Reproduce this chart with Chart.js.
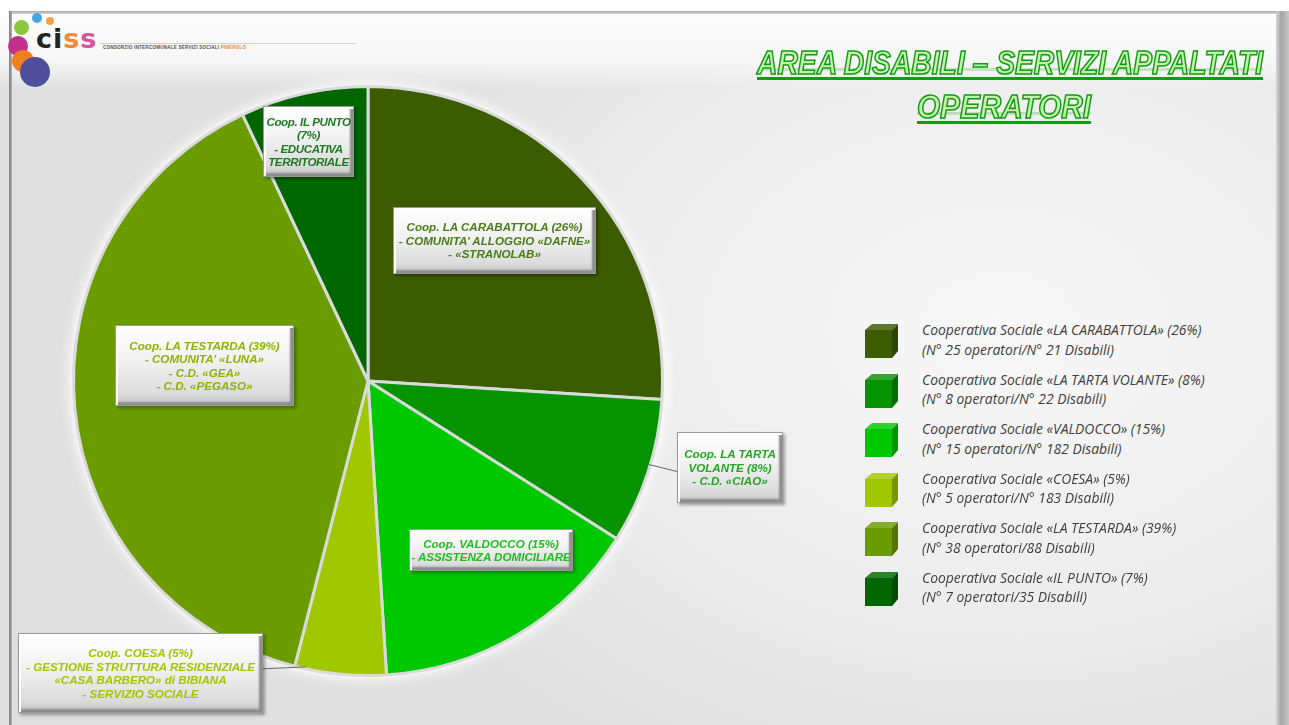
<!DOCTYPE html>
<html>
<head>
<meta charset="utf-8">
<script src="https://cdn.jsdelivr.net/npm/chart.js@4.4.1/dist/chart.umd.min.js"></script>
<style>
  html, body { margin: 0; padding: 0; }
  body {
    width: 1289px; height: 725px; overflow: hidden; position: relative;
    background: radial-gradient(ellipse 700px 500px at 1000px 330px, #f8f8f8 0%, #ededed 55%, #e0e0e0 100%);
    font-family: 'Liberation Sans', sans-serif;
  }
  #topband { position: absolute; left: 0; top: 0; width: 1289px; height: 88px;
    background: linear-gradient(#ffffff, #f6f6f6 70%, rgba(240,240,240,0)); }
  #frameTop { position: absolute; left: 9px; top: 11px; width: 1272px; height: 3px;
    background: linear-gradient(#a8a8a8, #d8d8d8); }
  #frameLeft { position: absolute; left: 9px; top: 11px; width: 3px; height: 714px;
    background: linear-gradient(90deg, #7c7c7c, #b0b0b0); }
  #frameRight { position: absolute; left: 1276px; top: 11px; width: 13px; height: 714px;
    background: linear-gradient(90deg, #d6d6d6, #a4a4a4 40%, #c8c8c8); }
  #chartWrap { position: absolute; left: 0; top: 0; width: 800px; height: 725px; }
  .dot { position: absolute; border-radius: 50%; }
  #logoText { position: absolute; left: 36px; top: 23px; font: bold 27px 'DejaVu Sans', sans-serif; letter-spacing: 1px; }
  #logoSub { position: absolute; left: 103px; top: 45px; font: bold 4.6px 'Liberation Sans', sans-serif; color: #555; letter-spacing: 0.2px; white-space: nowrap; }
  #logoLine { position: absolute; left: 100px; top: 43px; width: 256px; height: 1px; background: #d0d0d0; }
  .title { position: absolute; font: italic bold 33px 'Liberation Sans Narrow', 'Liberation Sans', sans-serif;
    color: #c4f2ac; -webkit-text-stroke: 1.6px #139c13; white-space: nowrap;
    text-decoration: underline; text-decoration-color: #139c13; text-decoration-thickness: 3px; text-underline-offset: 3px;
    -webkit-box-reflect: below -16px linear-gradient(transparent 62%, rgba(255,255,255,0.28));
    transform-origin: 0 0; }
  .lbl { position: absolute; box-sizing: border-box; text-align: center;
    font: italic bold 11.6px 'Liberation Sans Narrow', 'Liberation Sans', sans-serif; line-height: 13.5px;
    background: linear-gradient(#ffffff 0%, #f1f1f1 45%, #dcdcdc 85%, #c4c4c4 100%);
    border: 1px solid #9a9a9a;
    box-shadow: inset 2px 2px 0 #ffffff, inset -3px -3px 2px #8c8c8c, 2px 2px 3px rgba(0,0,0,0.35);
    display: flex; flex-direction: column; justify-content: center; white-space: nowrap; }
  .lbl.tight { letter-spacing: -0.4px; }
  #legend { position: absolute; left: 864px; top: 320px; }
  .lrow { position: absolute; left: 0; width: 400px; height: 45px; }
  .lrow canvas { position: absolute; left: 0; top: 2px; }
  .ltxt { position: absolute; left: 58px; top: 0; font: italic 13.9px 'Open Sans', sans-serif; color: #404040; line-height: 19.5px; white-space: nowrap; }
</style>
</head>
<body>
<div id="topband"></div>
<div id="frameTop"></div>
<div id="frameLeft"></div>
<div id="frameRight"></div>

<div class="dot" style="left:14px;top:20px;width:15px;height:15px;background:#8cc63f;"></div>
<div class="dot" style="left:32px;top:13px;width:10px;height:10px;background:#3fa9e0;"></div>
<div class="dot" style="left:46px;top:17px;width:8px;height:8px;background:#f5a04a;"></div>
<div class="dot" style="left:8px;top:36px;width:20px;height:20px;background:#c0308a;"></div>
<div class="dot" style="left:12px;top:50px;width:22px;height:22px;background:#f07f22;"></div>
<div class="dot" style="left:20px;top:57px;width:30px;height:30px;background:#4e4e9a;"></div>
<div id="logoText"><span style="color:#222">ci</span><span style="color:#f08a3c">s</span><span style="color:#d2569c">s</span></div>
<div id="logoLine"></div>
<div id="logoSub">CONSORZIO INTERCOMUNALE SERVIZI SOCIALI <span style="color:#e08a40">PINEROLO</span></div>

<div id="title1" class="title" style="left:757px;top:44px;">AREA DISABILI – SERVIZI APPALTATI</div>
<div id="title2" class="title" style="left:917px;top:88px;">OPERATORI</div>

<div id="chartWrap"><canvas id="pie" width="800" height="725"></canvas></div>
<div id="labels"></div>
<div id="legend"></div>

<script>
// dati
const categories = ['LA CARABATTOLA', 'LA TARTA VOLANTE', 'VALDOCCO', 'COESA', 'LA TESTARDA', 'IL PUNTO'];
const percentages = [26, 8, 15, 5, 39, 7];
const operatori = [25, 8, 15, 5, 38, 7];
const disabili = [21, 22, 182, 183, 88, 35];
const disabiliPrefix = [true, true, true, true, false, false]; // "N°" davanti ai disabili
const sliceColors = ['#3b5c00', '#059300', '#00c800', '#a0c800', '#6a9c00', '#006600'];
const labelColors = ['#4a7d18', '#26a626', '#1fbf1f', '#a6c400', '#8cb400', '#1f7a24'];

// testo etichette sul grafico
const labelLines = [
  ['Coop. LA CARABATTOLA (26%)', '- COMUNITA\u2019 ALLOGGIO \u00abDAFNE\u00bb', '- \u00abSTRANOLAB\u00bb'],
  ['Coop. LA TARTA', 'VOLANTE (8%)', '- C.D. \u00abCIAO\u00bb'],
  ['Coop. VALDOCCO (15%)', '- ASSISTENZA DOMICILIARE'],
  ['Coop. COESA (5%)', '- GESTIONE STRUTTURA RESIDENZIALE', '\u00abCASA BARBERO\u00bb di BIBIANA', '- SERVIZIO SOCIALE'],
  ['Coop. LA TESTARDA (39%)', '- COMUNITA\u2019 \u00abLUNA\u00bb', '- C.D. \u00abGEA\u00bb', '- C.D. \u00abPEGASO\u00bb'],
  ['Coop. IL PUNTO', '(7%)', '- EDUCATIVA', 'TERRITORIALE']
];

// posizione dei riquadri [left, top, width, height], leader = frazione dell'arco da collegare
const labelBoxes = [
  { box: [393, 207, 203, 67] },
  { box: [677, 432, 106, 71], leader: 0.45 },
  { box: [409, 529, 164, 42] },
  { box: [18, 633, 245, 80], leader: 0.88 },
  { box: [115, 325, 179, 81] },
  { box: [263, 106, 91, 71], tight: true }
];

// riquadri etichette
const labelsEl = document.getElementById('labels');
labelLines.forEach((lines, i) => {
  const [l, t, w, h] = labelBoxes[i].box;
  const div = document.createElement('div');
  div.className = 'lbl' + (labelBoxes[i].tight ? ' tight' : '');
  div.style.left = l + 'px';
  div.style.top = t + 'px';
  div.style.width = w + 'px';
  div.style.height = h + 'px';
  div.style.color = labelColors[i];
  lines.forEach(s => {
    const span = document.createElement('span');
    span.textContent = s;
    div.appendChild(span);
  });
  labelsEl.appendChild(div);
});

// legenda con cubetti
function shade(hex, f) {
  const n = parseInt(hex.slice(1), 16);
  let r = (n >> 16) & 255, g = (n >> 8) & 255, b = n & 255;
  const m = v => Math.max(0, Math.min(255, Math.round(f > 0 ? v + (255 - v) * f : v * (1 + f))));
  return `rgb(${m(r)},${m(g)},${m(b)})`;
}
const legendEl = document.getElementById('legend');
categories.forEach((name, i) => {
  const row = document.createElement('div');
  row.className = 'lrow';
  row.style.top = (i * 49.5) + 'px';
  const c = document.createElement('canvas');
  c.width = 36; c.height = 38;
  const g = c.getContext('2d');
  const col = sliceColors[i];
  // faccia frontale
  g.fillStyle = col;
  g.fillRect(1, 8, 27, 28);
  // faccia superiore
  g.fillStyle = shade(col, 0.18);
  g.beginPath(); g.moveTo(1, 8); g.lineTo(8, 2); g.lineTo(34, 2); g.lineTo(28, 8); g.closePath(); g.fill();
  // faccia laterale
  g.fillStyle = shade(col, -0.25);
  g.beginPath(); g.moveTo(28, 8); g.lineTo(34, 2); g.lineTo(34, 29); g.lineTo(28, 36); g.closePath(); g.fill();
  row.appendChild(c);
  const txt = document.createElement('div');
  txt.className = 'ltxt';
  const l1 = document.createElement('div');
  l1.textContent = `Cooperativa Sociale \u00ab${name}\u00bb (${percentages[i]}%)`;
  const l2 = document.createElement('div');
  l2.textContent = `(N\u00b0 ${operatori[i]} operatori/${disabiliPrefix[i] ? 'N\u00b0 ' : ''}${disabili[i]} Disabili)`;
  txt.appendChild(l1);
  txt.appendChild(l2);
  row.appendChild(txt);
  legendEl.appendChild(row);
});

// adatta la larghezza del titolo
function fitWidth(id, target) {
  const el = document.getElementById(id);
  const w = el.getBoundingClientRect().width;
  el.style.transform = `scaleX(${target / w})`;
}
fitWidth('title1', 506);
fitWidth('title2', 174);

// alone bianco attorno alla torta + linee di richiamo
const pieDecor = {
  id: 'pieDecor',
  beforeDatasetsDraw(chart) {
    const arc = chart.getDatasetMeta(0).data[0];
    if (!arc) return;
    const { x, y, outerRadius } = arc.getProps(['x', 'y', 'outerRadius'], true);
    const ctx = chart.ctx;
    ctx.save();
    ctx.shadowColor = 'rgba(255,255,255,1)';
    ctx.shadowBlur = 14;
    ctx.fillStyle = '#f4f4f4';
    ctx.beginPath();
    ctx.arc(x, y, outerRadius + 3, 0, Math.PI * 2);
    ctx.fill();
    ctx.restore();
  },
  afterDatasetsDraw(chart) {
    const ctx = chart.ctx;
    chart.getDatasetMeta(0).data.forEach((a, i) => {
      const lb = labelBoxes[i];
      if (lb.leader === undefined) return;
      const p = a.getProps(['x', 'y', 'startAngle', 'endAngle', 'outerRadius'], true);
      const ang = p.startAngle + (p.endAngle - p.startAngle) * lb.leader;
      const sx = p.x + Math.cos(ang) * (p.outerRadius - 2);
      const sy = p.y + Math.sin(ang) * (p.outerRadius - 2);
      const [l, t, w, h] = lb.box;
      const ex = sx > l + w ? l + w : l;
      const ey = sx > l + w ? sy + 2 : t + h / 2 + 4;
      ctx.save();
      ctx.strokeStyle = '#6a6a6a';
      ctx.lineWidth = 1;
      ctx.beginPath();
      ctx.moveTo(sx, sy);
      ctx.lineTo(ex, ey);
      ctx.stroke();
      ctx.restore();
    });
  }
};

new Chart(document.getElementById('pie'), {
  type: 'pie',
  data: {
    labels: categories,
    datasets: [{
      data: percentages,
      backgroundColor: sliceColors,
      borderColor: '#dadada',
      borderWidth: 3
    }]
  },
  options: {
    responsive: false,
    animation: false,
    layout: { padding: { left: 72, top: 85, right: 136, bottom: 48 } },
    plugins: {
      legend: { display: false },
      tooltip: { enabled: false }
    }
  },
  plugins: [pieDecor]
});
</script>
</body>
</html>
